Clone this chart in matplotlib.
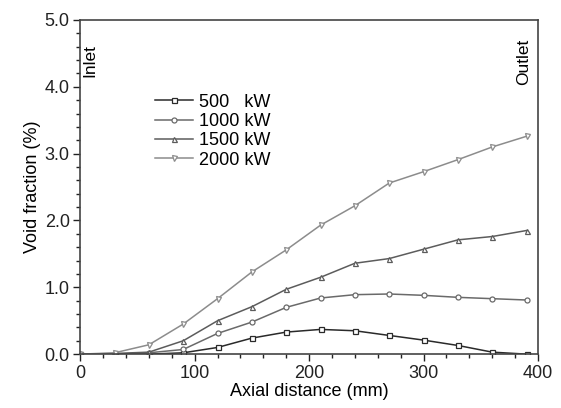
import matplotlib
matplotlib.use("Agg")
import matplotlib.pyplot as plt
from matplotlib.ticker import MultipleLocator, FormatStrFormatter

plt.rcParams['font.family'] = ['Liberation Sans', 'DejaVu Sans']

# Axial positions (mm)
axial = [0, 30, 60, 90, 120, 150, 180, 210, 240, 270, 300, 330, 360, 390]

# Void fraction (%) per heating power
void_500 = [0.0, 0.0, 0.0, 0.02, 0.10, 0.24, 0.33, 0.37, 0.35, 0.28, 0.21, 0.13, 0.03, 0.0]
void_1000 = [0.0, 0.0, 0.02, 0.07, 0.31, 0.48, 0.70, 0.84, 0.89, 0.90, 0.88, 0.85, 0.83, 0.81]
void_1500 = [0.0, 0.01, 0.03, 0.20, 0.50, 0.71, 0.97, 1.15, 1.36, 1.43, 1.57, 1.71, 1.76, 1.85]
void_2000 = [0.0, 0.02, 0.14, 0.45, 0.83, 1.23, 1.56, 1.93, 2.22, 2.56, 2.73, 2.91, 3.10, 3.26]

labels = ['500   kW', '1000 kW', '1500 kW', '2000 kW']

fig = plt.figure(figsize=(5.61, 4.08), dpi=100)
ax = fig.add_axes([0.143, 0.132, 0.816, 0.819])

series = [
    (void_500, 's', '#2a2a2a'),
    (void_1000, 'o', '#6a6a6a'),
    (void_1500, '^', '#5c5c5c'),
    (void_2000, 'v', '#8c8c8c'),
]
for (vals, mk, col), lab in zip(series, labels):
    ax.plot(axial, vals, color=col, lw=1.1, marker=mk, ms=3.6,
            mfc='white', mec=col, mew=0.9, label=lab)

ax.set_xlim(0, 400)
ax.set_ylim(0, 5.0)
ax.xaxis.set_major_locator(MultipleLocator(100))
ax.xaxis.set_minor_locator(MultipleLocator(20))
ax.yaxis.set_major_locator(MultipleLocator(1.0))
ax.yaxis.set_minor_locator(MultipleLocator(0.2))
ax.yaxis.set_major_formatter(FormatStrFormatter('%.1f'))
ax.tick_params(which='major', direction='out', length=5, width=1, labelsize=13,
               colors='#222222', pad=2.5)
ax.tick_params(which='minor', direction='out', length=3, width=1, colors='#222222')
for sp in ax.spines.values():
    sp.set_color('#444444')
    sp.set_linewidth(1.2)

ax.set_xlabel('Axial distance (mm)', fontsize=13, labelpad=1)
ax.set_ylabel('Void fraction (%)', fontsize=13, labelpad=3)

ax.text(0.022, 0.88, 'Inlet', rotation=90, fontsize=12.5, transform=ax.transAxes,
        ha='center', va='center')
ax.text(0.968, 0.875, 'Outlet', rotation=90, fontsize=12.5, transform=ax.transAxes,
        ha='center', va='center')

ax.legend(loc='upper left', bbox_to_anchor=(0.164, 0.78), frameon=False,
          fontsize=13, handlelength=2.1, handletextpad=0.3, labelspacing=0.13,
          borderpad=0, borderaxespad=0)

fig.savefig('out.png', dpi=100)
